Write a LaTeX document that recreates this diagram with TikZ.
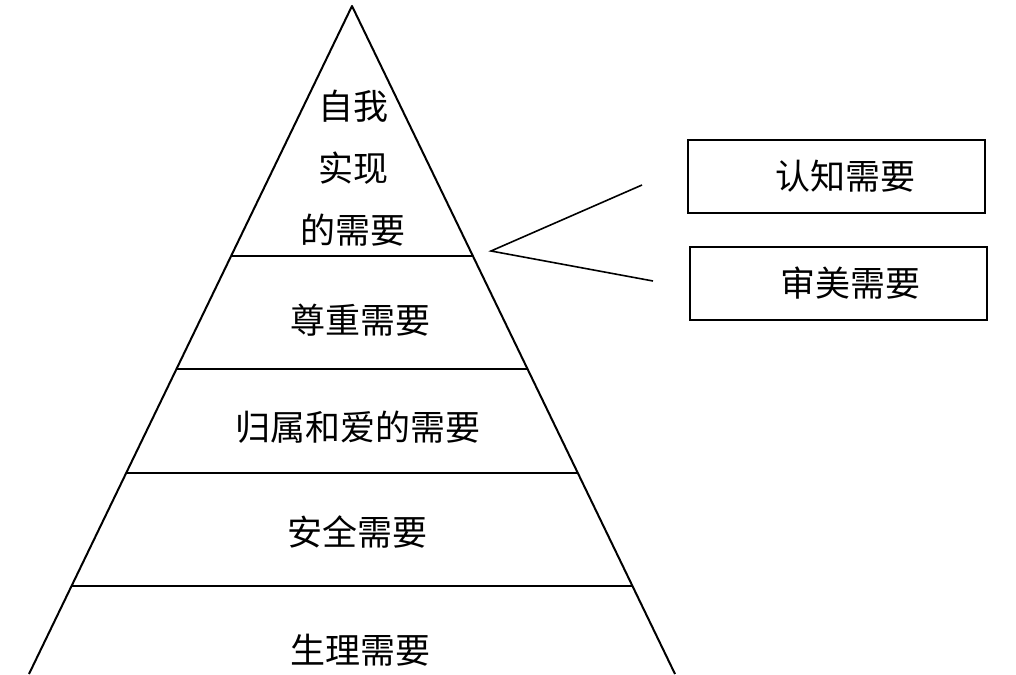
\documentclass[tikz,border=0pt]{standalone}
\usepackage{fontspec}
\newfontfamily\cjk{Noto Sans CJK SC}
\usetikzlibrary{calc}
\begin{document}
\begin{tikzpicture}[x=1pt,y=-1pt,
  lbl/.style={font=\cjk\fontsize{35}{62}\selectfont, inner sep=0pt, align=center},
  edge/.style={line width=2pt, line join=round},
  layer/.style={line width=1.8pt},
  sidebox/.style={draw, line width=2pt, minimum width=297pt, minimum height=73pt, inner sep=0pt, font=\cjk\fontsize{35}{42}\selectfont},
  brace/.style={line width=1.6pt, line join=miter}]
\fill[white] (0,0) rectangle (1016,674);
\useasboundingbox (0,0) rectangle (1016,674);
% pyramid
\coordinate (apex) at (352,6);
\coordinate (bl) at (29,674);
\coordinate (br) at (675,674);
\draw[edge] (bl) -- (apex) -- (br);
\foreach \t/\n in {0.3743/a,0.5434/b,0.6991/c,0.8683/d}{
  \coordinate (L\n) at ($(apex)!\t!(bl)$);
  \coordinate (R\n) at ($(apex)!\t!(br)$);
  \draw[layer] (L\n) -- (R\n);
}
% labels
\node[lbl] (top) at (353,168) {自我\\实现\\的需要};
\node[lbl] (esteem) at (360,320) {尊重需要};
\node[lbl] (love) at (358,427) {归属和爱的需要};
\node[lbl] (safe) at (357,532) {安全需要};
\node[lbl] (phys) at (360,650) {生理需要};
% side boxes
\node[sidebox] (cog) at (836.5,176.5) {\hspace*{17pt}认知需要};
\node[sidebox] (aes) at (838.5,283.5) {\hspace*{23pt}审美需要};
% bracket
\coordinate (tip) at (491,251);
\coordinate (e1) at (642,185);
\coordinate (e2) at (653,281);
\draw[brace] (e1) -- (tip) -- (e2);
\end{tikzpicture}
\end{document}
